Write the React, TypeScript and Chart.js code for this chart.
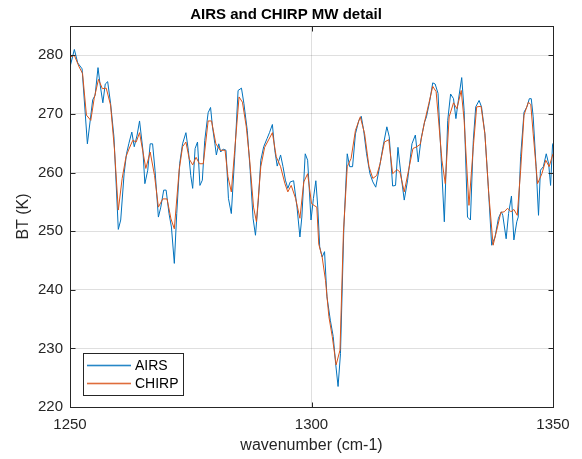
import { useEffect, useRef } from "react";
import { Chart, registerables } from "chart.js";

Chart.register(...registerables);

const titleText = "AIRS and CHIRP MW detail";
const xLabel = "wavenumber (cm-1)";
const yLabel = "BT (K)";
const seriesNames = ["AIRS", "CHIRP"];
const seriesColors = ["#0072BD", "#D95319"];
const xTicks = [1250, 1300, 1350];
const yTicks = [220, 230, 240, 250, 260, 270, 280];

const airsNu = [
  1250.0, 1250.9, 1251.6, 1252.5, 1253.6, 1254.7, 1255.2, 1255.8, 1256.2, 1256.8,
  1257.3, 1257.8, 1258.4, 1259.1, 1260.0, 1260.5, 1261.2, 1261.7, 1262.2, 1262.8,
  1263.3, 1263.9, 1264.4, 1265.1, 1265.5, 1266.1, 1266.6, 1267.1, 1267.6, 1268.3,
  1268.8, 1269.4, 1269.9, 1270.5, 1271.0, 1271.6, 1272.1, 1272.7, 1273.3, 1274.0,
  1274.5, 1275.0, 1275.4, 1275.9, 1276.4, 1276.9, 1277.4, 1277.9, 1278.6, 1279.1,
  1279.5, 1280.0, 1280.3, 1280.8, 1281.2, 1281.7, 1282.3, 1282.8, 1283.4, 1284.1,
  1284.8, 1285.5, 1286.0, 1286.7, 1287.3, 1287.9, 1288.4, 1289.0, 1289.5, 1290.1,
  1290.8, 1291.3, 1291.9, 1292.4, 1292.9, 1293.6, 1294.1, 1294.6, 1295.1, 1295.6,
  1296.3, 1297.0, 1297.6, 1298.0, 1298.7, 1299.2, 1299.9, 1300.4, 1300.9, 1301.3,
  1301.7, 1302.2, 1302.7, 1303.2, 1303.9, 1304.5, 1305.0, 1305.5, 1306.0, 1306.7,
  1307.4, 1307.9, 1308.5, 1309.1, 1309.8, 1310.3, 1310.8, 1311.4, 1312.1, 1312.7,
  1313.3, 1314.1, 1314.8, 1315.6, 1316.1, 1316.8, 1317.4, 1317.9, 1318.5, 1319.2,
  1319.9, 1320.8, 1321.5, 1322.1, 1322.7, 1323.4, 1323.8, 1324.5, 1325.1, 1325.6,
  1326.2, 1326.8, 1327.5, 1328.2, 1328.8, 1329.4, 1329.9, 1330.4, 1331.1, 1331.6,
  1332.3, 1332.9, 1333.5, 1334.0, 1334.7, 1335.2, 1335.9, 1336.6, 1337.3, 1338.0,
  1338.7, 1339.3, 1339.6, 1340.3, 1340.8, 1341.4, 1341.9, 1342.5, 1342.8, 1343.3,
  1344.0, 1344.6, 1345.1, 1345.5, 1345.9, 1346.5, 1347.0, 1347.4, 1348.0, 1348.6,
  1349.1, 1349.5, 1349.9, 1350.0,
];
const airsBT = [
  278.0, 281.0, 278.7, 277.7, 264.9, 272.4, 273.2, 277.9, 275.2, 271.9,
  275.1, 275.5, 271.8, 266.1, 250.3, 251.9, 259.8, 263.2, 265.0, 266.9,
  264.4, 266.4, 268.8, 263.8, 258.1, 260.4, 264.9, 264.9, 260.4, 252.4,
  254.1, 257.0, 257.0, 253.0, 250.7, 244.5, 253.0, 261.5, 264.9, 266.8,
  263.8, 259.5, 257.3, 264.1, 265.2, 257.8, 258.7, 265.5, 270.2, 271.1,
  267.8, 264.9, 263.0, 264.9, 263.5, 264.0, 263.8, 255.6, 253.0, 262.7,
  274.0, 274.4, 271.8, 267.2, 260.4, 252.2, 249.3, 255.3, 262.1, 264.4,
  265.8, 266.8, 268.2, 263.8, 261.1, 263.0, 261.0, 258.7, 257.3, 258.4,
  258.6, 254.1, 249.0, 252.4, 263.2, 262.1, 251.9, 255.6, 258.6, 254.1,
  247.3, 245.6, 246.5, 238.8, 234.8, 232.0, 227.4, 223.5, 229.1, 250.7,
  263.2, 261.0, 261.0, 266.6, 268.9, 269.6, 267.2, 263.2, 259.8, 258.4,
  257.5, 261.0, 264.4, 267.8, 266.1, 257.7, 257.8, 264.3, 259.8, 255.3,
  258.7, 264.9, 266.4, 261.8, 265.8, 268.6, 269.5, 272.3, 275.3, 275.1,
  273.5, 263.2, 251.6, 268.9, 273.4, 272.6, 269.2, 272.3, 276.2, 270.6,
  252.4, 251.9, 265.5, 271.2, 272.3, 271.2, 266.6, 257.6, 247.6, 249.0,
  252.2, 253.3, 252.7, 248.7, 253.0, 256.0, 248.5, 251.6, 252.4, 262.7,
  270.3, 271.2, 272.6, 272.6, 269.5, 261.0, 252.7, 260.4, 261.0, 263.2,
  261.5, 257.8, 264.7, 265.0,
];

const chirpNu = [
  1250.0, 1250.9, 1251.9, 1252.6, 1253.4, 1254.3, 1255.0, 1255.9, 1256.7, 1257.5,
  1258.4, 1259.2, 1260.0, 1260.8, 1261.6, 1262.2, 1263.0, 1263.7, 1264.4, 1265.7,
  1266.6, 1267.5, 1268.3, 1269.2, 1270.1, 1270.9, 1271.6, 1272.6, 1273.3, 1274.0,
  1274.7, 1275.4, 1276.1, 1276.8, 1277.6, 1278.6, 1279.3, 1280.2, 1281.1, 1282.1,
  1282.7, 1283.4, 1284.1, 1285.0, 1285.7, 1286.5, 1287.2, 1288.0, 1288.6, 1289.5,
  1290.3, 1291.2, 1291.9, 1292.7, 1293.6, 1294.5, 1295.1, 1295.8, 1296.7, 1297.6,
  1298.4, 1299.2, 1300.0, 1300.7, 1301.1, 1301.5, 1302.2, 1302.9, 1303.6, 1304.3,
  1305.1, 1305.9, 1306.6, 1307.4, 1308.2, 1309.1, 1310.1, 1311.0, 1311.9, 1312.7,
  1313.5, 1314.2, 1315.1, 1316.0, 1316.8, 1317.7, 1318.3, 1319.2, 1320.1, 1321.0,
  1321.8, 1322.5, 1323.4, 1324.3, 1325.1, 1325.8, 1326.2, 1327.0, 1327.7, 1328.5,
  1329.4, 1330.1, 1331.0, 1331.6, 1332.6, 1333.5, 1334.2, 1335.1, 1335.9, 1336.7,
  1337.6, 1338.5, 1339.2, 1339.9, 1340.6, 1341.3, 1341.9, 1342.6, 1343.3, 1344.0,
  1344.9, 1345.4, 1345.9, 1346.8, 1347.7, 1348.5, 1349.2, 1350.0,
];
const chirpBT = [
  279.7, 280.0, 278.0, 276.9, 269.8, 268.9, 272.6, 275.9, 274.3, 274.4,
  271.5, 264.0, 253.6, 259.0, 262.7, 264.0, 265.5, 265.2, 266.8, 260.7,
  263.5, 259.5, 254.1, 255.5, 255.5, 252.1, 250.4, 260.4, 264.4, 265.2,
  262.3, 261.3, 262.6, 261.5, 261.5, 268.8, 268.8, 264.9, 263.8, 263.8,
  259.3, 256.7, 263.8, 272.9, 272.0, 267.8, 262.1, 254.1, 251.6, 261.0,
  264.3, 265.7, 266.8, 262.7, 261.0, 258.1, 256.7, 257.8, 255.6, 252.2,
  258.4, 259.8, 254.7, 254.3, 254.1, 247.8, 245.6, 241.6, 235.4, 232.0,
  227.2, 229.7, 249.6, 261.0, 262.4, 267.2, 269.5, 266.6, 261.0, 259.0,
  259.5, 261.5, 265.2, 265.6, 259.8, 260.5, 260.1, 256.7, 260.4, 264.1,
  264.4, 264.8, 268.6, 271.8, 274.7, 273.8, 270.0, 262.1, 258.1, 269.5,
  271.9, 270.9, 274.0, 268.9, 254.4, 264.4, 271.2, 271.3, 266.6, 256.4,
  247.6, 250.7, 253.2, 253.3, 253.9, 253.3, 253.7, 252.7, 260.4, 269.8,
  272.0, 271.6, 266.6, 258.1, 259.8, 262.1, 261.0, 263.2,
];

const FONT = "'Liberation Sans', Arial, Helvetica, sans-serif";
const AXIS = "#262626";
const GRID = "rgba(38,38,38,0.15)";

export default function App() {
  const ref = useRef<HTMLCanvasElement>(null);

  useEffect(() => {
    if (!ref.current) return;

    const matlabPlugin = {
      id: "matlabDecor",
      afterDatasetsDraw(chart: any) {
        const { ctx, chartArea: a, scales } = chart;
        const L = Math.round(a.left) + 0.5;
        const R = Math.round(a.right) + 0.5;
        const T = Math.round(a.top) + 0.5;
        const B = Math.round(a.bottom) + 0.5;
        ctx.save();
        ctx.strokeStyle = AXIS;
        ctx.lineWidth = 1;
        ctx.strokeRect(L, T, R - L, B - T);
        const tl = 5;
        ctx.beginPath();
        for (const v of xTicks) {
          const x = Math.round(scales.x.getPixelForValue(v)) + 0.5;
          ctx.moveTo(x, B);
          ctx.lineTo(x, B - tl);
          ctx.moveTo(x, T);
          ctx.lineTo(x, T + tl);
        }
        for (const v of yTicks) {
          const y = Math.round(scales.y.getPixelForValue(v)) + 0.5;
          ctx.moveTo(L, y);
          ctx.lineTo(L + tl, y);
          ctx.moveTo(R, y);
          ctx.lineTo(R - tl, y);
        }
        ctx.stroke();
        ctx.restore();
      },
      afterDraw(chart: any) {
        const { ctx } = chart;
        ctx.save();
        // title
        ctx.fillStyle = "#000";
        ctx.font = `bold 15px ${FONT}`;
        ctx.textAlign = "center";
        ctx.textBaseline = "middle";
        ctx.fillText(titleText, 286, 15);
        // legend box
        const bx = 83, by = 353, bw = 100, bh = 42;
        ctx.fillStyle = "#fff";
        ctx.fillRect(bx, by, bw, bh);
        ctx.strokeStyle = AXIS;
        ctx.lineWidth = 1;
        ctx.strokeRect(bx + 0.5, by + 0.5, bw, bh);
        ctx.font = `14px ${FONT}`;
        ctx.textAlign = "left";
        ctx.textBaseline = "middle";
        const rows = [365, 383];
        for (let i = 0; i < seriesNames.length; i++) {
          ctx.fillStyle = seriesColors[i];
          ctx.globalAlpha = 0.85;
          ctx.fillRect(87, rows[i] - 0.3, 44, 1.6);
          ctx.globalAlpha = 1;
          ctx.fillStyle = "#000";
          ctx.fillText(seriesNames[i], 135, rows[i] + 1);
        }
        ctx.restore();
      },
    };

    const chart = new Chart(ref.current, {
      type: "line",
      data: {
        datasets: [
          {
            label: seriesNames[0],
            data: airsNu.map((x, i) => ({ x, y: airsBT[i] })),
            borderColor: seriesColors[0],
            backgroundColor: seriesColors[0],
            borderWidth: 1,
            pointRadius: 0,
            tension: 0,
            fill: false,
            order: 2,
          },
          {
            label: seriesNames[1],
            data: chirpNu.map((x, i) => ({ x, y: chirpBT[i] })),
            borderColor: seriesColors[1],
            backgroundColor: seriesColors[1],
            borderWidth: 1,
            pointRadius: 0,
            tension: 0,
            fill: false,
            order: 1,
          },
        ],
      },
      options: {
        animation: false,
        responsive: false,
        devicePixelRatio: 1,
        layout: { padding: { top: 26, right: 29, left: 0, bottom: 0 } },
        plugins: {
          legend: { display: false },
          tooltip: { enabled: false },
          title: { display: false },
        },
        scales: {
          x: {
            type: "linear",
            min: 1250,
            max: 1350,
            afterFit: (s: any) => {
              s.height = 52;
            },
            ticks: {
              stepSize: 50,
              color: AXIS,
              font: { family: FONT, size: 15 },
              padding: 9,
              maxRotation: 0,
              callback: (v: any) => String(v),
            },
            grid: { color: GRID, drawTicks: false },
            border: { display: false },
            title: {
              display: true,
              text: xLabel,
              color: AXIS,
              font: { family: FONT, size: 16 },
              padding: { top: 0, bottom: 4 },
            },
          },
          y: {
            type: "linear",
            min: 220,
            max: 285,
            afterFit: (s: any) => {
              s.width = 70;
            },
            ticks: {
              stepSize: 10,
              includeBounds: false,
              color: AXIS,
              font: { family: FONT, size: 15 },
              padding: 7,
              callback: (v: any) => String(v),
            },
            grid: { color: GRID, drawTicks: false },
            border: { display: false },
            title: {
              display: true,
              text: yLabel,
              color: AXIS,
              font: { family: FONT, size: 16 },
              padding: { top: 14, bottom: 0 },
            },
          },
        },
      },
      plugins: [matlabPlugin],
    });

    return () => chart.destroy();
  }, []);

  return (
    <div style={{ position: "fixed", left: 0, top: 0, width: 582, height: 459, background: "#fff" }}>
      <canvas ref={ref} width={582} height={459} style={{ display: "block" }} />
    </div>
  );
}
